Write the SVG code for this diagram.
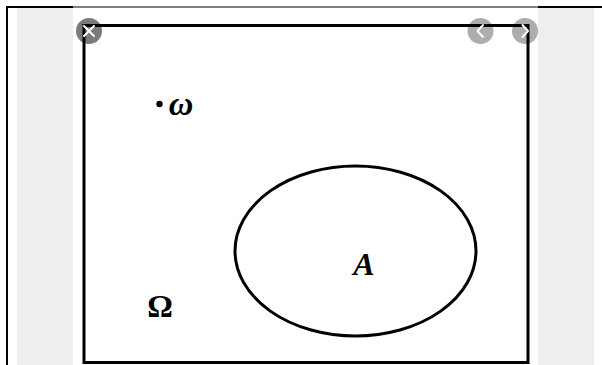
<svg xmlns="http://www.w3.org/2000/svg" width="602" height="365" viewBox="0 0 602 365">
<style>
.shape{fill:none;stroke:#000;stroke-width:3}
.lbl{font-family:"Liberation Serif","Times New Roman",serif;fill:#000}
.btn-icon{fill:none;stroke:#fff;stroke-width:2;stroke-linecap:round;stroke-linejoin:round}
</style>
<rect x="0" y="0" width="602" height="365" fill="#fff"/>
<g id="page-chrome">
<rect x="17" y="8" width="56" height="357" fill="#eeeeee"/>
<rect x="538" y="8" width="56" height="357" fill="#eeeeee"/>
<line x1="7" y1="6" x2="7" y2="365" stroke="#000" stroke-width="2"/>
<line x1="6" y1="7" x2="73" y2="7" stroke="#000" stroke-width="2"/>
<line x1="73" y1="7" x2="538" y2="7" stroke="#000" stroke-width="1.2"/>
<line x1="538" y1="7" x2="602" y2="7" stroke="#000" stroke-width="2"/>
</g>
<g id="omega-space">
<rect class="shape" x="84" y="25.5" width="444" height="337"/>
<text class="lbl" x="160" y="317" font-size="32" font-weight="bold" text-anchor="middle">Ω</text>
</g>
<g id="set-A">
<ellipse class="shape" cx="355.5" cy="251" rx="120.5" ry="85"/>
<text class="lbl" x="364" y="275" font-size="32" font-weight="bold" font-style="italic" text-anchor="middle">A</text>
</g>
<g id="point-w">
<circle cx="159.5" cy="104" r="3.2" fill="#000"/>
<text class="lbl" x="181" y="115" font-size="34" font-weight="bold" font-style="italic" text-anchor="middle">ω</text>
</g>
<g id="connectors"></g>
<g id="buttons">
<circle cx="89" cy="31" r="13" fill="#000" fill-opacity="0.52"/>
<path class="btn-icon" d="M84 26 L94 36 M94 26 L84 36"/>
<circle cx="480.5" cy="31" r="13" fill="#000" fill-opacity="0.32"/>
<path class="btn-icon" d="M483 25 L477.5 31 L483 37"/>
<circle cx="525" cy="31" r="13" fill="#000" fill-opacity="0.32"/>
<path class="btn-icon" d="M522.5 25 L528 31 L522.5 37"/>
</g>
</svg>
